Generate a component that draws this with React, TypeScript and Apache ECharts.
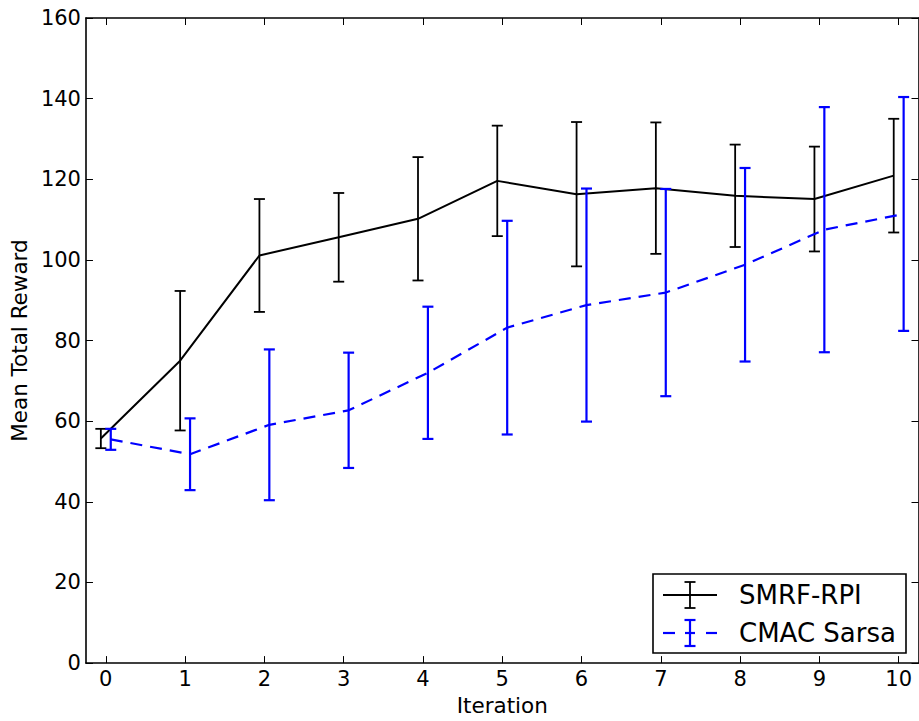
import React, { useEffect, useRef } from "react";
import * as echarts from "echarts";

const iterations = [0, 1, 2, 3, 4, 5, 6, 7, 8, 9, 10];
const smrfMean = [55.7, 75.0, 101.1, 105.6, 110.2, 119.6, 116.3, 117.8, 115.9, 115.1, 120.9];
const smrfErr = [2.4, 17.3, 14.0, 11.0, 15.3, 13.7, 17.9, 16.3, 12.7, 13.0, 14.1];
const cmacMean = [55.5, 51.8, 59.1, 62.7, 72.0, 83.2, 88.8, 91.9, 98.8, 107.5, 111.4];
const cmacErr = [2.6, 8.9, 18.7, 14.3, 16.4, 26.5, 28.9, 25.7, 24.0, 30.4, 29.0];
const xTicks = [0, 1, 2, 3, 4, 5, 6, 7, 8, 9, 10];
const seriesNames = ["SMRF-RPI", "CMAC Sarsa"];
const seriesOffsets = [-0.0625, 0.0625];
const seriesColors = ["#000000", "#0000ff"];

const FONT = "DejaVu Sans";

function errorBarSeries(name: string, means: number[], errs: number[], off: number, color: string, lw: number, z: number) {
  return {
    type: "custom",
    name,
    z,
    encode: { x: 0, y: [1, 2] },
    data: iterations.map((it, i) => [it + off, means[i] - errs[i], means[i] + errs[i]]),
    renderItem: (params: any, api: any) => {
      const x = api.value(0);
      const lo = api.coord([x, api.value(1)]);
      const hi = api.coord([x, api.value(2)]);
      const hw = 5.5;
      const style = { stroke: color, lineWidth: lw };
      return {
        type: "group",
        children: [
          { type: "line", shape: { x1: lo[0], y1: lo[1], x2: hi[0], y2: hi[1] }, style },
          { type: "line", shape: { x1: lo[0] - hw, y1: lo[1], x2: lo[0] + hw, y2: lo[1] }, style },
          { type: "line", shape: { x1: hi[0] - hw, y1: hi[1], x2: hi[0] + hw, y2: hi[1] }, style },
        ],
      };
    },
  };
}

function lineSeries(name: string, means: number[], off: number, color: string, lw: number, dash: any, z: number) {
  return {
    type: "line",
    name,
    z,
    showSymbol: false,
    symbol: "none",
    data: iterations.map((it, i) => [it + off, means[i]]),
    lineStyle: { color, width: lw, type: dash },
  };
}

export default function App() {
  const ref = useRef<HTMLDivElement>(null);
  useEffect(() => {
    if (!ref.current) return;
    const chart = echarts.init(ref.current, undefined, { renderer: "svg" });
    const axisLine = { show: true, onZero: false, lineStyle: { color: "#000", width: 1.6 } };
    const tick = { show: true, inside: true, length: 7, lineStyle: { color: "#000", width: 1 }, customValues: xTicks };
    const ytick = { show: true, inside: true, length: 7, lineStyle: { color: "#000", width: 1 } };
    const lx = 663, lmid = 690, lr = 717, ly1 = 595, ly2 = 633;
    const option: any = {
      animation: false,
      textStyle: { fontFamily: FONT },
      grid: { left: 84.5, top: 18, width: 834, height: 649, containLabel: false },
      xAxis: [
        {
          type: "value", min: -0.25, max: 10.25, position: "bottom",
          axisLine, axisTick: tick,
          axisLabel: { show: true, customValues: xTicks, fontSize: 21, color: "#000", margin: 5, fontFamily: FONT },
          splitLine: { show: false },
          name: "Iteration", nameLocation: "middle", nameGap: 28,
          nameTextStyle: { fontSize: 21.5, color: "#000", fontFamily: FONT },
        },
        {
          type: "value", min: -0.25, max: 10.25, position: "top",
          axisLine, axisTick: tick, axisLabel: { show: false }, splitLine: { show: false },
        },
      ],
      yAxis: [
        {
          type: "value", min: 0, max: 160, interval: 20, position: "left",
          axisLine, axisTick: ytick,
          axisLabel: { fontSize: 21, color: "#000", margin: 5, fontFamily: FONT },
          splitLine: { show: false },
          name: "Mean Total Reward", nameLocation: "middle", nameGap: 50,
          nameTextStyle: { fontSize: 21.5, color: "#000", fontFamily: FONT },
        },
        {
          type: "value", min: 0, max: 160, interval: 20, position: "right",
          axisLine, axisTick: ytick, axisLabel: { show: false }, splitLine: { show: false },
        },
      ],
      series: [
        lineSeries(seriesNames[0], smrfMean, seriesOffsets[0], seriesColors[0], 2, "solid", 2),
        errorBarSeries(seriesNames[0], smrfMean, smrfErr, seriesOffsets[0], seriesColors[0], 1.8, 3),
        lineSeries(seriesNames[1], cmacMean, seriesOffsets[1], seriesColors[1], 2.2, [12, 8], 4),
        errorBarSeries(seriesNames[1], cmacMean, cmacErr, seriesOffsets[1], seriesColors[1], 2.2, 5),
      ],
      graphic: [
        {
          type: "group", z: 100,
          children: [
            { type: "rect", shape: { x: 653, y: 574, width: 253, height: 79 }, style: { fill: "#fff", stroke: "#000", lineWidth: 1.6 } },
            { type: "line", shape: { x1: lx, y1: ly1, x2: lr, y2: ly1 }, style: { stroke: "#000", lineWidth: 2 } },
            { type: "line", shape: { x1: lmid, y1: ly1 - 13, x2: lmid, y2: ly1 + 13 }, style: { stroke: "#000", lineWidth: 1.8 } },
            { type: "line", shape: { x1: lmid - 5.5, y1: ly1 - 13, x2: lmid + 5.5, y2: ly1 - 13 }, style: { stroke: "#000", lineWidth: 1.8 } },
            { type: "line", shape: { x1: lmid - 5.5, y1: ly1 + 13, x2: lmid + 5.5, y2: ly1 + 13 }, style: { stroke: "#000", lineWidth: 1.8 } },
            { type: "text", x: 739, y: ly1, style: { text: seriesNames[0], fontSize: 26, fontFamily: FONT, fill: "#000", verticalAlign: "middle", align: "left" } },
            { type: "line", shape: { x1: lx, y1: ly2, x2: 675, y2: ly2 }, style: { stroke: "#0000ff", lineWidth: 2.2 } },
            { type: "line", shape: { x1: 685, y1: ly2, x2: 695, y2: ly2 }, style: { stroke: "#0000ff", lineWidth: 2.2 } },
            { type: "line", shape: { x1: 706, y1: ly2, x2: lr, y2: ly2 }, style: { stroke: "#0000ff", lineWidth: 2.2 } },
            { type: "line", shape: { x1: lmid, y1: ly2 - 13, x2: lmid, y2: ly2 + 13 }, style: { stroke: "#0000ff", lineWidth: 2.2 } },
            { type: "line", shape: { x1: lmid - 5.5, y1: ly2 - 13, x2: lmid + 5.5, y2: ly2 - 13 }, style: { stroke: "#0000ff", lineWidth: 2.2 } },
            { type: "line", shape: { x1: lmid - 5.5, y1: ly2 + 13, x2: lmid + 5.5, y2: ly2 + 13 }, style: { stroke: "#0000ff", lineWidth: 2.2 } },
            { type: "text", x: 739, y: ly2, style: { text: seriesNames[1], fontSize: 26, fontFamily: FONT, fill: "#000", verticalAlign: "middle", align: "left" } },
          ],
        },
      ],
    };
    chart.setOption(option);
    return () => chart.dispose();
  }, []);
  return <div ref={ref} style={{ position: "absolute", left: 0, top: 0, width: 919, height: 721, background: "#fff" }} />;
}
